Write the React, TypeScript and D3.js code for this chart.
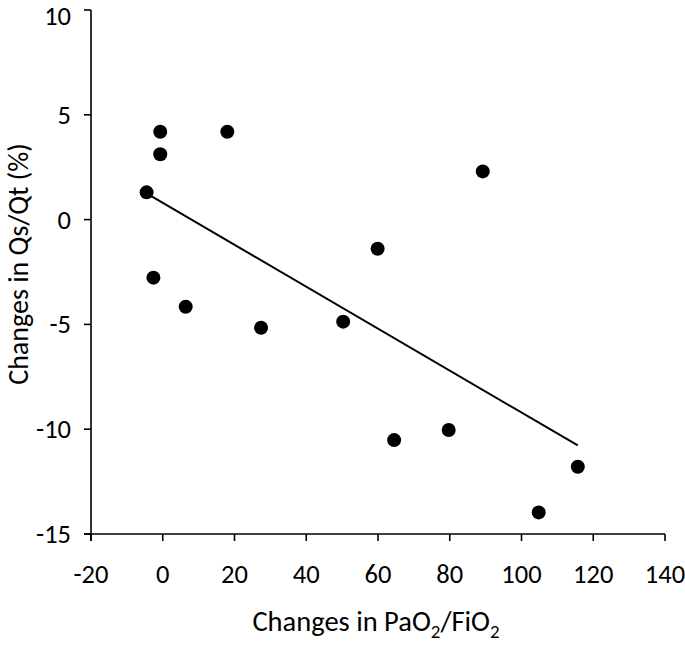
import React from "react";
import * as d3 from "d3";

const xValues = [-0.7, -0.7, -4.5, 18.0, -2.6, 6.4, 27.4, 50.3, 59.9, 89.2, 64.5, 79.7, 115.7, 104.8];
const yValues = [4.19, 3.12, 1.3, 4.19, -2.77, -4.16, -5.16, -4.87, -1.39, 2.3, -10.52, -10.04, -11.79, -13.97];
const xTicks = [-20, 0, 20, 40, 60, 80, 100, 120, 140];
const yTicks = [-15, -10, -5, 0, 5, 10];

const FONT = "Carlito, Calibri, Lato, 'Open Sans', sans-serif";

export default function App() {
  const W = 685;
  const H = 646;
  const x = d3.scaleLinear().domain([-20, 140]).range([91, 665]);
  const y = d3.scaleLinear().domain([-15, 10]).range([534, 10]);

  const pts = xValues.map((v, i) => ({ x: v, y: yValues[i] }));
  const mx = d3.mean(xValues) as number;
  const my = d3.mean(yValues) as number;
  const sxy = d3.sum(pts, (p) => (p.x - mx) * (p.y - my));
  const sxx = d3.sum(pts, (p) => (p.x - mx) * (p.x - mx));
  const slope = sxy / sxx;
  const icpt = my - slope * mx;
  const [xmin, xmax] = d3.extent(xValues) as [number, number];
  const line = d3.line<[number, number]>().x((d) => x(d[0])).y((d) => y(d[1]));
  const trend = line([
    [xmin, icpt + slope * xmin],
    [xmax, icpt + slope * xmax],
  ]);

  const x0 = x(-20);
  const yBase = y(-15);
  const tick = 7;

  return (
    <svg width={W} height={H} style={{ position: "absolute", left: 0, top: 0, background: "#fff" }}>
      <g stroke="#000" strokeWidth={1.6} fill="none">
        <line x1={x0} x2={x0} y1={y(10)} y2={yBase + tick} />
        <line x1={x0 - tick} x2={x(140)} y1={yBase} y2={yBase} />
        {yTicks.map((t) => (
          <line key={"yt" + t} x1={x0 - tick} x2={x0} y1={y(t)} y2={y(t)} />
        ))}
        {xTicks.map((t) => (
          <line key={"xt" + t} x1={x(t)} x2={x(t)} y1={yBase} y2={yBase + tick} />
        ))}
      </g>
      <g fontFamily={FONT} fontSize={26.5} fill="#000">
        {yTicks.map((t) => (
          <text key={"yl" + t} x={71} y={Math.max(y(t), 16)} textAnchor="end" dominantBaseline="central">
            {t}
          </text>
        ))}
        {xTicks.map((t) => (
          <text key={"xl" + t} x={x(t)} y={583} textAnchor="middle">
            {t}
          </text>
        ))}
      </g>
      <path d={trend || ""} stroke="#000" strokeWidth={2} fill="none" />
      {pts.map((p, i) => (
        <circle key={i} cx={x(p.x)} cy={y(p.y)} r={7} fill="#000" />
      ))}
      <text x={376} y={631} textAnchor="middle" fontFamily={FONT} fontSize={28.5} fill="#000">
        Changes in PaO
        <tspan fontSize={19} dy={7}>2</tspan>
        <tspan dy={-7}>/FiO</tspan>
        <tspan fontSize={19} dy={7}>2</tspan>
      </text>
      <text
        transform={`translate(28,264) rotate(-90)`}
        textAnchor="middle"
        fontFamily={FONT}
        fontSize={28}
        fill="#000"
      >
        Changes in Qs/Qt (%)
      </text>
    </svg>
  );
}
